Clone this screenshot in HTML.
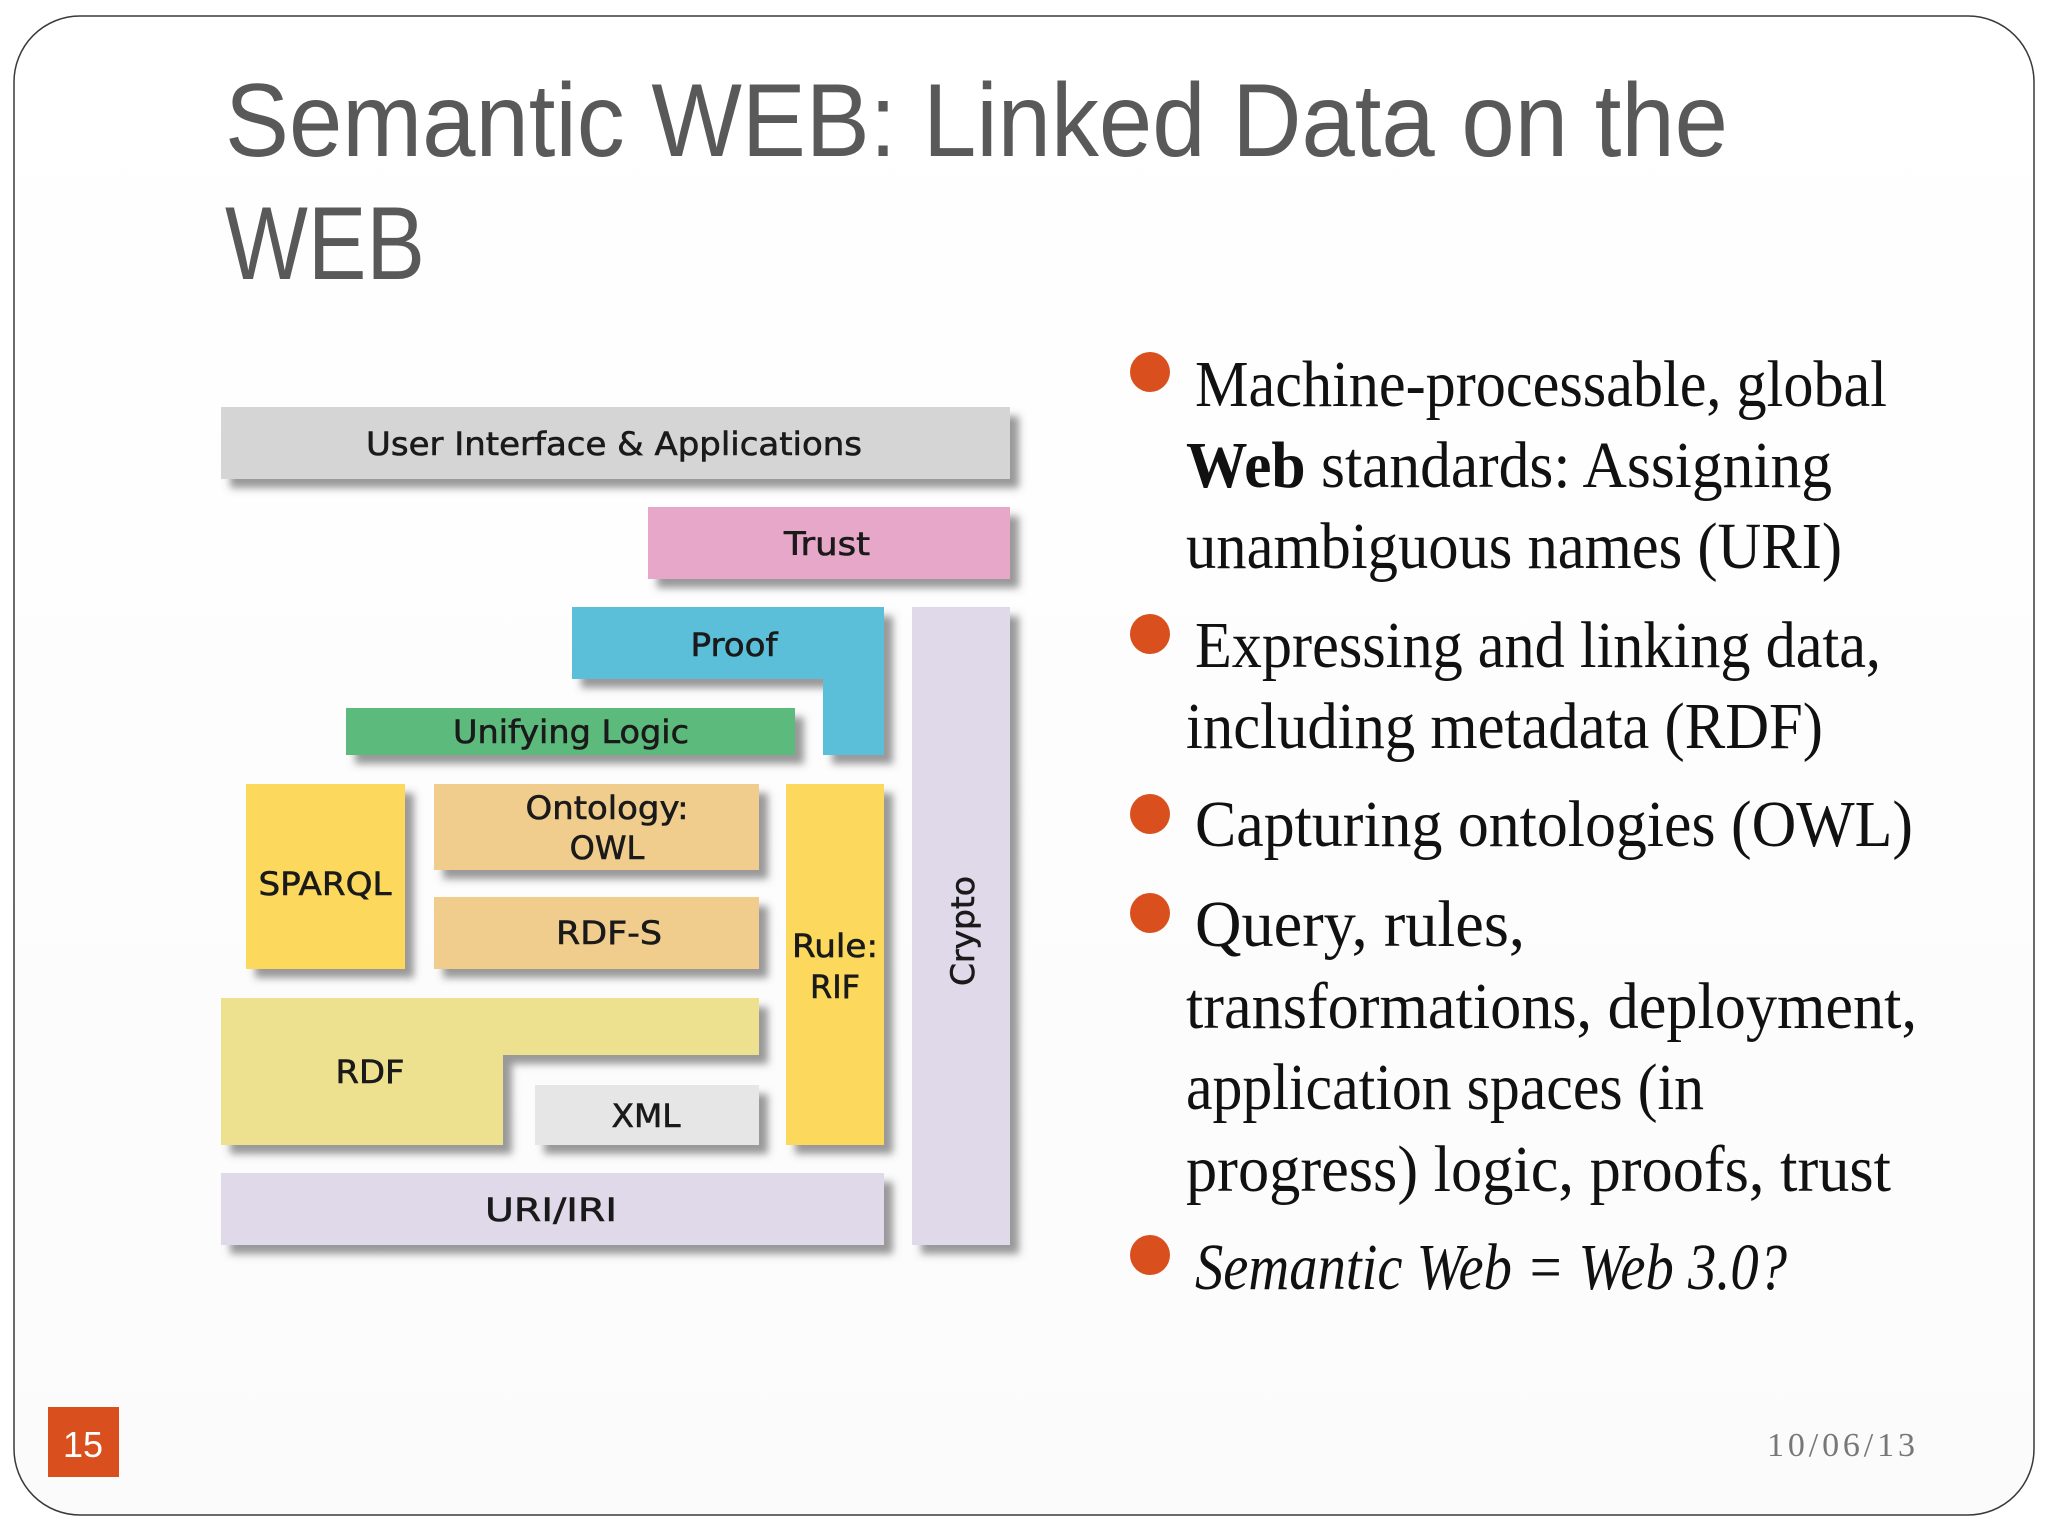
<!DOCTYPE html>
<html><head><meta charset="utf-8"><style>
html,body{margin:0;padding:0;background:#fff;}
svg{display:block;}
</style></head><body>
<svg width="2048" height="1536" viewBox="0 0 2048 1536" xmlns="http://www.w3.org/2000/svg">
<defs>
<filter id="sh" x="-10%" y="-10%" width="130%" height="140%">
<feDropShadow dx="9" dy="9" stdDeviation="4" flood-color="#555" flood-opacity="0.6"/>
</filter>
<linearGradient id="bg" x1="0" y1="0" x2="0" y2="1"><stop offset="0" stop-color="#ffffff"/><stop offset="1" stop-color="#fbfbfb"/></linearGradient>
</defs>
<rect x="14" y="16" width="2020" height="1499" rx="66" ry="66" fill="url(#bg)" stroke="#3a3a3a" stroke-width="1.5"/>
<g font-family="Liberation Sans, Arial, sans-serif" fill="#595959" font-size="104">
<text x="225" y="156" textLength="1503" lengthAdjust="spacingAndGlyphs">Semantic WEB: Linked Data on the</text>
<text x="225" y="279" textLength="200" lengthAdjust="spacingAndGlyphs">WEB</text>
</g>
<g filter="url(#sh)">
<rect x="221" y="407" width="789" height="72" fill="#d5d5d5"/>
<rect x="648" y="507" width="362" height="72" fill="#e6a7c8"/>
<path d="M572 607 H884 V755 H823 V679 H572 Z" fill="#5bbfda"/>
<rect x="912" y="607" width="98" height="638" fill="#e0d9ea"/>
<rect x="346" y="708" width="449" height="47" fill="#5cba7d"/>
<rect x="246" y="784" width="159" height="185" fill="#fcd95c"/>
<rect x="434" y="784" width="325" height="86" fill="#f0cd8d"/>
<rect x="434" y="897" width="325" height="72" fill="#f0cd8d"/>
<rect x="786" y="784" width="98" height="361" fill="#fcd95c"/>
<path d="M221 998 H759 V1055 H503 V1145 H221 Z" fill="#ede08e"/>
<rect x="535" y="1085" width="224" height="60" fill="#e6e6e6"/>
<rect x="221" y="1173" width="663" height="72" fill="#e0d9ea"/>
</g>
<g font-family="DejaVu Sans, Verdana, sans-serif" font-size="32" fill="#1a1a1a" stroke="#1a1a1a" stroke-width="0.6" text-anchor="middle">
<text x="614" y="455" textLength="496" lengthAdjust="spacingAndGlyphs">User Interface &amp; Applications</text>
<text x="827" y="555" textLength="86" lengthAdjust="spacingAndGlyphs">Trust</text>
<text x="734" y="656" textLength="87" lengthAdjust="spacingAndGlyphs">Proof</text>
<text x="571" y="743" textLength="236" lengthAdjust="spacingAndGlyphs">Unifying Logic</text>
<text x="607" y="819" textLength="163" lengthAdjust="spacingAndGlyphs">Ontology:</text>
<text x="607" y="859">OWL</text>
<text x="325" y="895" textLength="133" lengthAdjust="spacingAndGlyphs">SPARQL</text>
<text x="609" y="944" textLength="106" lengthAdjust="spacingAndGlyphs">RDF-S</text>
<text x="835" y="957" textLength="86" lengthAdjust="spacingAndGlyphs">Rule:</text>
<text x="835" y="998">RIF</text>
<text x="370" y="1083" textLength="69" lengthAdjust="spacingAndGlyphs">RDF</text>
<text x="646" y="1127" textLength="69" lengthAdjust="spacingAndGlyphs">XML</text>
<text x="551" y="1221" textLength="132" lengthAdjust="spacingAndGlyphs">URI/IRI</text>
<text x="0" y="0" transform="translate(974 931) rotate(-90)" textLength="110" lengthAdjust="spacingAndGlyphs">Crypto</text>
</g>
<g fill="#d9501e">
<circle cx="1150" cy="372" r="20"/>
<circle cx="1150" cy="634" r="20"/>
<circle cx="1150" cy="814" r="20"/>
<circle cx="1150" cy="913" r="20"/>
<circle cx="1150" cy="1255" r="20"/>
</g>
<g font-family="Liberation Serif, Times New Roman, serif" font-size="66" fill="#111">
<text x="1195" y="406" textLength="692" lengthAdjust="spacingAndGlyphs">Machine-processable, global</text>
<text x="1186" y="487" textLength="646" lengthAdjust="spacingAndGlyphs"><tspan font-weight="bold">Web</tspan> standards: Assigning</text>
<text x="1186" y="568" textLength="656" lengthAdjust="spacingAndGlyphs">unambiguous names (URI)</text>
<text x="1195" y="667" textLength="686" lengthAdjust="spacingAndGlyphs">Expressing and linking data,</text>
<text x="1186" y="748" textLength="637" lengthAdjust="spacingAndGlyphs">including metadata (RDF)</text>
<text x="1195" y="846" textLength="718" lengthAdjust="spacingAndGlyphs">Capturing ontologies (OWL)</text>
<text x="1195" y="946" textLength="330" lengthAdjust="spacingAndGlyphs">Query, rules,</text>
<text x="1186" y="1028" textLength="731" lengthAdjust="spacingAndGlyphs">transformations, deployment,</text>
<text x="1186" y="1109" textLength="518" lengthAdjust="spacingAndGlyphs">application spaces (in</text>
<text x="1186" y="1191" textLength="705" lengthAdjust="spacingAndGlyphs">progress) logic, proofs, trust</text>
<text x="1195" y="1289" textLength="592" lengthAdjust="spacingAndGlyphs" font-style="italic">Semantic Web = Web 3.0?</text>
</g>
<rect x="48" y="1407" width="71" height="70" fill="#d9501e"/>
<text x="83" y="1457" text-anchor="middle" font-family="Liberation Sans, Arial, sans-serif" font-size="36" fill="#fff">15</text>
<text x="1767" y="1456" textLength="148" lengthAdjust="spacing" font-family="Liberation Serif, serif" font-size="34" fill="#777">10/06/13</text>
</svg>
</body></html>
